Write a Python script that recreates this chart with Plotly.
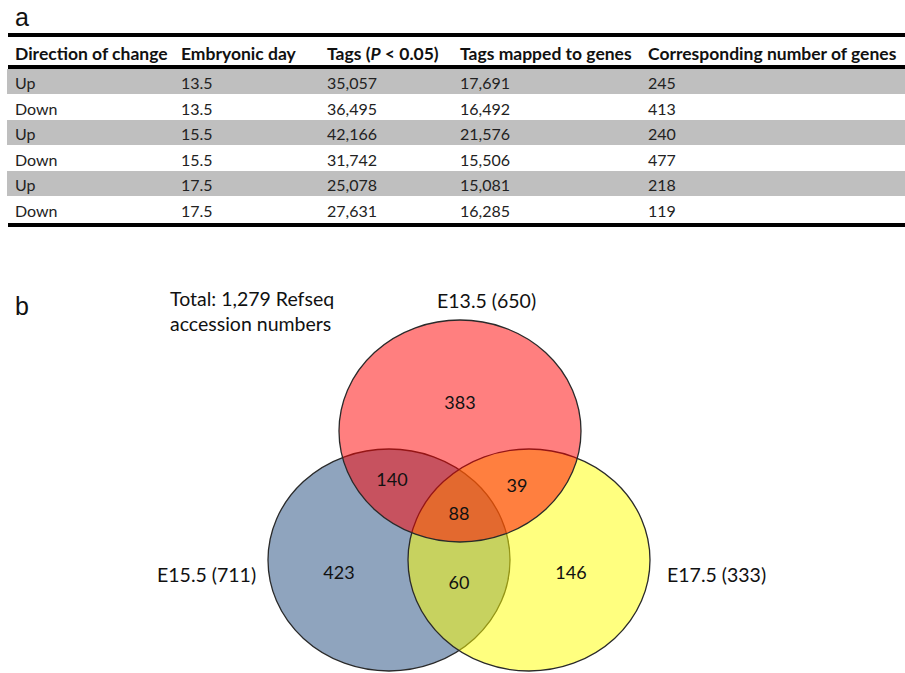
import plotly.graph_objects as go

# ---------------- data ----------------
headers = ["Direction of change", "Embryonic day", "Tags (<i>P</i> &lt; 0.05)",
           "Tags mapped to genes", "Corresponding number of genes"]
directions = ["Up", "Down", "Up", "Down", "Up", "Down"]
embryonic_days = ["13.5", "13.5", "15.5", "15.5", "17.5", "17.5"]
tags_p005 = ["35,057", "36,495", "42,166", "31,742", "25,078", "27,631"]
tags_mapped = ["17,691", "16,492", "21,576", "15,506", "15,081", "16,285"]
gene_numbers = ["245", "413", "240", "477", "218", "119"]

set_names = ["E13.5 (650)", "E15.5 (711)", "E17.5 (333)"]
region_names = ["E13.5 only", "E13.5&E15.5", "E13.5&E17.5", "all three",
                "E15.5 only", "E15.5&E17.5", "E17.5 only"]
region_counts = [383, 140, 39, 88, 423, 60, 146]
total_label = "Total: 1,279 Refseq<br>accession numbers"

# ---------------- layout geometry (pixel-like axis units) ----------------
W, H = 905, 673
FONT = "Lato"
col_widths = [166, 146, 133, 188, 265]
table_left = 7
circle_geom = {  # name: (cx, cy, rx, ry, fill)
    "E15.5 (711)": (389, 560, 121, 111, "rgba(31,73,125,0.5)"),
    "E17.5 (333)": (529, 560, 121, 111, "rgba(255,255,0,0.5)"),
    "E13.5 (650)": (460, 431, 121, 111, "rgba(255,0,0,0.5)"),
}
region_pos = [(460, 404), (392, 481), (517, 487), (459, 515),
              (339, 574), (459, 584), (571, 574)]
set_label_pos = {"E13.5 (650)": (486, 300, "center"),
                 "E15.5 (711)": (258, 574, "right"),
                 "E17.5 (333)": (665, 574, "left")}

fig = go.Figure()

# ---------------- table (a) ----------------
row_fill = ["#BFBFBF" if i % 2 == 0 else "white" for i in range(len(directions))]
fig.add_trace(go.Table(
    domain=dict(x=[table_left / W, 1], y=[1 - 237 / H, 1 - 53 / H]),
    columnwidth=col_widths,
    header=dict(values=[], fill=dict(color="rgba(0,0,0,0)"),
                line=dict(color="rgba(0,0,0,0)", width=0)),
    cells=dict(values=[directions, embryonic_days, tags_p005, tags_mapped, gene_numbers],
               align="left", height=25.5,
               fill=dict(color=[row_fill] * 5),
               line=dict(color=[row_fill] * 5, width=1),
               font=dict(family=FONT, size=16, color="#222222")),
))

annotations = []
# header labels of the table
xcur = table_left
for h, w in zip(headers, col_widths):
    annotations.append(dict(x=xcur + 6, y=53, xref="x", yref="y", text="<b>%s</b>" % h,
                            showarrow=False, xanchor="left", yanchor="middle",
                            font=dict(family=FONT, size=17.5, color="#111111")))
    xcur += w

shapes = []
for yy in (35, 67, 225):
    shapes.append(dict(type="line", xref="paper", yref="paper",
                       x0=8 / W, x1=1, y0=1 - yy / H, y1=1 - yy / H,
                       line=dict(color="black", width=4), layer="above"))

# ---------------- venn (b) ----------------
for name, (cx, cy, rx, ry, fill) in circle_geom.items():
    shapes.append(dict(type="circle", xref="x", yref="y",
                       x0=cx - rx, x1=cx + rx, y0=cy - ry, y1=cy + ry,
                       fillcolor=fill, line=dict(color="#2a2a2a", width=1.3),
                       layer="below"))

fig.add_trace(go.Scatter(
    x=[p[0] for p in region_pos], y=[p[1] for p in region_pos],
    mode="text", text=[str(c) for c in region_counts],
    customdata=region_names, hovertemplate="%{customdata}: %{text}<extra></extra>",
    textfont=dict(family=FONT, size=18, color="#111111"), showlegend=False))

for name in set_names:
    x, y, anchor = set_label_pos[name]
    annotations.append(dict(x=x, y=y, xref="x", yref="y", text=name, showarrow=False,
                            xanchor=anchor, yanchor="middle",
                            font=dict(family=FONT, size=19.5, color="#111111")))
annotations.append(dict(x=168, y=311, xref="x", yref="y", text=total_label,
                        showarrow=False, xanchor="left", yanchor="middle", align="left",
                        font=dict(family=FONT, size=19.5, color="#111111")))
annotations.append(dict(x=13, y=17, xref="x", yref="y", text="a", showarrow=False,
                        xanchor="left", yanchor="middle",
                        font=dict(family="Liberation Sans", size=25, color="#111111")))
annotations.append(dict(x=13, y=306, xref="x", yref="y", text="b", showarrow=False,
                        xanchor="left", yanchor="middle",
                        font=dict(family="Liberation Sans", size=25, color="#111111")))

fig.update_layout(
    width=W, height=H, margin=dict(l=0, r=0, t=0, b=0),
    paper_bgcolor="white", plot_bgcolor="rgba(0,0,0,0)",
    xaxis=dict(range=[0, W], visible=False, fixedrange=True),
    yaxis=dict(range=[H, 0], visible=False, fixedrange=True),
    shapes=shapes, annotations=annotations, showlegend=False,
)

fig.write_html("out.html")
